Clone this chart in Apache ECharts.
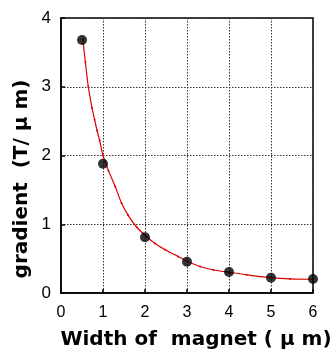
<!DOCTYPE html>
<html><head><meta charset="utf-8">
<script src="https://cdn.jsdelivr.net/npm/echarts@6/dist/echarts.min.js"></script>
<style>html,body{margin:0;padding:0;background:#fff}#c{width:332px;height:353px}</style>
</head><body><div id="c"></div>
<script>
// measured points
const pointX = [0.5, 1, 2, 3, 4, 5, 6];
const pointY = [3.68, 1.88, 0.81, 0.455, 0.305, 0.223, 0.204];
// red fitted curve
const curveX = [0.52, 0.58, 0.65, 0.74, 0.80, 0.86, 0.92, 1.0, 1.13, 1.29, 1.44, 1.60, 1.80, 2.0, 2.24, 2.48, 2.79, 2.99, 3.31, 3.63, 4.02, 4.42, 4.98, 5.45, 6.0];
const curveY = [3.69, 3.36, 3.0, 2.69, 2.52, 2.36, 2.22, 2.0, 1.78, 1.55, 1.31, 1.13, 0.96, 0.84, 0.72, 0.63, 0.53, 0.465, 0.385, 0.335, 0.30, 0.265, 0.225, 0.205, 0.20];
const xTicks = [0, 1, 2, 3, 4, 5, 6];
const yTicks = [0, 1, 2, 3, 4];
const xTitle = 'Width of  magnet ( μ m)';
const yTitle = 'gradient  (T/ μ m)';

const chart = echarts.init(document.getElementById('c'));
const axisCommon = {
  axisLine: {show: true, onZero: false, lineStyle: {color: '#000', width: 1.5}},
  axisTick: {show: true, inside: true, length: 4, lineStyle: {color: '#000', width: 1.5}},
  splitLine: {show: true, lineStyle: {color: '#333', type: [1.5, 1.5], width: 1}},
  axisLabel: {color: '#000', fontFamily: 'Liberation Sans', fontSize: 16}
};
chart.setOption({
  animation: false,
  grid: {left: 61, right: 19, top: 18, bottom: 60, show: true, borderColor: '#000', borderWidth: 1.5},
  xAxis: Object.assign({type: 'value', min: xTicks[0], max: xTicks[xTicks.length - 1], interval: 1}, axisCommon,
    {axisLabel: Object.assign({}, axisCommon.axisLabel, {margin: 12})}),
  yAxis: Object.assign({type: 'value', min: yTicks[0], max: yTicks[yTicks.length - 1], interval: 1}, axisCommon,
    {axisLabel: Object.assign({}, axisCommon.axisLabel, {margin: 10, fontSize: 17})}),
  graphic: [
    {type: 'text', x: 196, y: 340, style: {text: xTitle, fill: '#000', font: 'bold 20px "DejaVu Sans"', textAlign: 'center', textVerticalAlign: 'middle'}},
    {type: 'text', x: 22, y: 179, rotation: Math.PI / 2, style: {text: yTitle, fill: '#000', font: 'bold 20px "DejaVu Sans"', textAlign: 'center', textVerticalAlign: 'middle'}}
  ],
  series: [
    {type: 'line', data: curveX.map((x, i) => [x, curveY[i]]), smooth: 0.3, showSymbol: true, symbol: 'circle', symbolSize: 2,
      lineStyle: {color: '#e00000', width: 1.2}, itemStyle: {color: '#e00000'}, z: 2},
    {type: 'scatter', data: pointX.map((x, i) => [x, pointY[i]]), symbolSize: 10, itemStyle: {color: '#000'}, z: 3}
  ]
});
</script></body></html>
